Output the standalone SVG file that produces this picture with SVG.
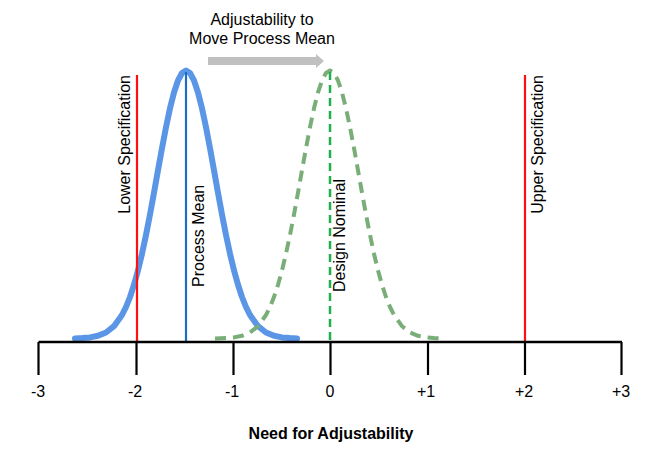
<svg xmlns="http://www.w3.org/2000/svg" width="660" height="454" viewBox="0 0 660 454">
<style>
text{font-family:"Liberation Sans",Arial,sans-serif;font-size:16px;fill:#000}
.c{text-anchor:middle}
.v{text-anchor:end}
.axis{stroke:#000;stroke-width:2.5;fill:none}
.tick{stroke:#000;stroke-width:2.2}
.spec{stroke:#ff1010;stroke-width:2.2}
</style>
<rect width="660" height="454" fill="#fff"/>
<g id="curves">
<polyline id="process-curve" fill="none" stroke="#5b96e6" stroke-width="6" stroke-linejoin="round" stroke-linecap="round" points="75,338.5 82,338.1 90,337.4 98,335.8 106,332.5 114,326.2 122,315 126,307 130,297 134,284.8 138,270.4 142,253.7 146,235 150,214.5 154,192.7 158,170.3 162,148.2 166,127.2 170,108.3 174,92.5 178,80.5 182,73 186,70.5 190,73 194,80.5 198,92.5 202,108.3 206,127.2 210,148.2 214,170.3 218,192.7 222,214.5 226,235 230,253.7 234,270.4 238,284.8 242,297 246,307 250,315 258,326.2 266,332.5 274,335.8 282,337.4 290,338.1 297,338.5"/>
<polyline id="design-curve" fill="none" stroke="#7aae78" stroke-width="4" stroke-dasharray="11 7" stroke-linejoin="round" points="215,338.5 226,338.1 234,337.4 242,335.8 250,332.5 258,326.2 266,315 270,307 274,297 278,284.8 282,270.4 286,253.7 290,235 294,214.5 298,192.7 302,170.3 306,148.2 310,127.2 314,108.3 318,92.5 322,80.5 326,73 330,70.5 334,73 338,80.5 342,92.5 346,108.3 350,127.2 354,148.2 358,170.3 362,192.7 366,214.5 370,235 374,253.7 378,270.4 382,284.8 386,297 390,307 394,315 402,326.2 410,332.5 418,335.8 426,337.4 434,338.1 445,338.5"/>
</g>
<g id="lower-spec">
<line class="spec" x1="137" y1="75" x2="137" y2="342"/>
<text class="v" transform="translate(130,75) rotate(-90)">Lower Specification</text>
</g>
<g id="upper-spec">
<line class="spec" x1="525" y1="75" x2="525" y2="342"/>
<text class="v" transform="translate(543,75) rotate(-90)">Upper Specification</text>
</g>
<g id="process-mean">
<line x1="186" y1="72" x2="186" y2="342" stroke="#1a6fc4" stroke-width="2.2"/>
<text transform="translate(204,287) rotate(-90)">Process Mean</text>
</g>
<g id="design-nominal">
<line x1="330" y1="72" x2="330" y2="342" stroke="#1fb04c" stroke-width="2.5" stroke-dasharray="8 5"/>
<text transform="translate(345,292) rotate(-90)">Design Nominal</text>
</g>
<g id="adjust-arrow">
<polygon points="208,57 316,57 316,54 324,61 316,68 316,65 208,65" fill="#c0c0c0"/>
<text class="c" x="262" y="24.5">Adjustability to</text>
<text class="c" x="262" y="43.5">Move Process Mean</text>
</g>
<g id="axis">
<line class="axis" x1="38.5" y1="342" x2="622" y2="342"/>
<line class="tick" x1="38.5" y1="342" x2="38.5" y2="375"/>
<line class="tick" x1="136.5" y1="342" x2="136.5" y2="375"/>
<line class="tick" x1="233.5" y1="342" x2="233.5" y2="375"/>
<line class="tick" x1="330.5" y1="342" x2="330.5" y2="375"/>
<line class="tick" x1="428" y1="342" x2="428" y2="375"/>
<line class="tick" x1="525" y1="342" x2="525" y2="375"/>
<line class="tick" x1="621.5" y1="342" x2="621.5" y2="375"/>
<text class="c" x="38" y="397">-3</text>
<text class="c" x="135" y="397">-2</text>
<text class="c" x="232" y="397">-1</text>
<text class="c" x="330" y="397">0</text>
<text class="c" x="426" y="397">+1</text>
<text class="c" x="524" y="397">+2</text>
<text class="c" x="621" y="397">+3</text>
<text class="c" x="331" y="439" font-weight="bold">Need for Adjustability</text>
</g>
</svg>
